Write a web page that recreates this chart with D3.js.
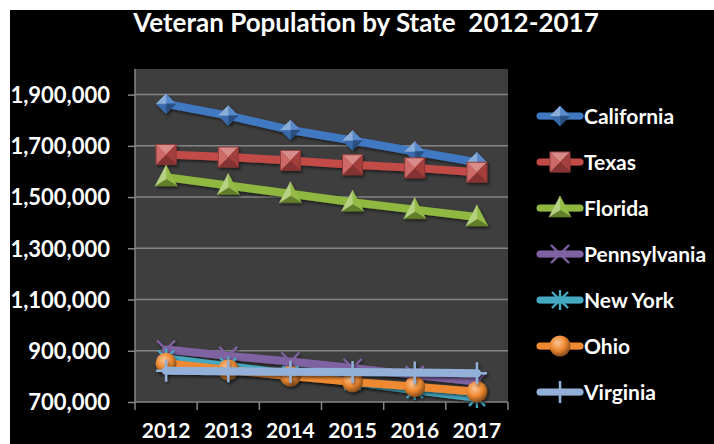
<!DOCTYPE html>
<html><head><meta charset="utf-8">
<script src="https://cdn.jsdelivr.net/npm/d3@7/dist/d3.min.js"></script>
<style>
html,body{margin:0;padding:0;background:#fff;}
svg{display:block;}
text{font-family:Lato,"Open Sans",sans-serif;font-weight:bold;fill:#fff;}
</style></head>
<body>
<svg id="chart" width="714" height="444"></svg>
<script>
const years = ["2012","2013","2014","2015","2016","2017"];
const seriesNames = ["California","Texas","Florida","Pennsylvania","New York","Ohio","Virginia"];
const california   = [1864000,1818000,1762000,1721000,1678000,1636000];
const texas        = [1666000,1656000,1643000,1626000,1614000,1597000];
const florida      = [1578000,1545000,1513000,1480000,1451000,1422000];
const pennsylvania = [905000,880000,858000,833000,805000,780000];
const newYork      = [870000,840000,809000,778000,747000,716000];
const ohio         = [851000,825000,801000,779000,760000,740000];
const virginia     = [822000,820000,818000,817000,815000,812000];
const yTicks = [700000,900000,1100000,1300000,1500000,1700000,1900000];
const title = "Veteran Population by State  2012-2017";

const seriesValues = [california,texas,florida,pennsylvania,newYork,ohio,virginia];
const colors = ["#4178c2","#c24b47","#8fb83f","#7f62a1","#45a9c2","#f08a32","#92b0d8"];
const shapes = ["diamond","square","triangle","x","star","circle","plus"];

const svg = d3.select("#chart");
const defs = svg.append("defs");
const sh = defs.append("filter").attr("id","shadow").attr("x","-20%").attr("y","-20%").attr("width","140%").attr("height","140%");
sh.append("feDropShadow").attr("dx",1.5).attr("dy",2).attr("stdDeviation",1.5).attr("flood-color","#000").attr("flood-opacity",0.55);

colors.forEach((c,i)=>{
  const g = defs.append("radialGradient").attr("id","ball"+i).attr("cx","40%").attr("cy","35%").attr("r","65%");
  g.append("stop").attr("offset","0%").attr("stop-color",d3.interpolateRgb(c,"#fff")(0.5));
  g.append("stop").attr("offset","55%").attr("stop-color",c);
  g.append("stop").attr("offset","100%").attr("stop-color",d3.interpolateRgb(c,"#000")(0.45));
});

// background
svg.append("rect").attr("x",10).attr("y",10).attr("width",704).attr("height",434).attr("fill","#000");

const x = d3.scaleBand().domain(years).range([135,508]).padding(0);
const y = d3.scaleLinear().domain([700000,2000000]).range([402,69]);

// plot area
svg.append("rect").attr("x",135).attr("y",y(2000000)).attr("width",373).attr("height",y(700000)-y(2000000)).attr("fill","#3e3e3e");

// grid
svg.append("g").selectAll("line").data(yTicks.slice(1)).join("line")
  .attr("x1",135).attr("x2",508).attr("y1",d=>y(d)).attr("y2",d=>y(d))
  .attr("stroke","#858585").attr("stroke-width",1.5);

// axes
const yAxis = svg.append("g").attr("transform","translate(135,0)")
  .call(d3.axisLeft(y).tickValues(yTicks).tickSize(7).tickPadding(18).tickFormat(d3.format(",")));
yAxis.select(".domain").attr("stroke","#868686").attr("stroke-width",1.5).attr("d","M0,"+y(2000000)+"V"+y(700000));
yAxis.selectAll(".tick line").attr("stroke","#868686").attr("stroke-width",1.5);
yAxis.selectAll(".tick text").style("font-size","22px").attr("fill","#fff").attr("dy","0.36em");

const xAxis = svg.append("g").attr("transform","translate(0,"+y(700000)+")");
xAxis.append("line").attr("x1",135).attr("x2",508).attr("stroke","#868686").attr("stroke-width",1.5);
const bounds = years.map(d=>x(d)).concat([x(years[years.length-1])+x.bandwidth()]);
xAxis.selectAll("line.tk").data(bounds).join("line").attr("class","tk")
  .attr("x1",d=>d).attr("x2",d=>d).attr("y1",0).attr("y2",8).attr("stroke","#868686").attr("stroke-width",1.5);
xAxis.selectAll("text").data(years).join("text")
  .attr("x",d=>x(d)+x.bandwidth()/2).attr("y",36).attr("text-anchor","middle")
  .style("font-size","21px").text(d=>d);

// title
svg.append("text").attr("x",366).attr("y",32).attr("text-anchor","middle")
  .style("font-size","26px").style("white-space","pre").attr("xml:space","preserve").text(title);

// marker drawing
function facet(g, pts, c, cx, cy){
  for(let k=0;k<pts.length;k++){
    const a=pts[k], b=pts[(k+1)%pts.length];
    let nx=(a[0]+b[0])/2-cx, ny=(a[1]+b[1])/2-cy;
    const len=Math.hypot(nx,ny)||1; nx/=len; ny/=len;
    const dot = -(nx*-0.45 + ny*-0.9);
    const col = dot<0 ? d3.interpolateRgb(c,"#fff")(Math.min(0.4,-dot*0.4)) : d3.interpolateRgb(c,"#000")(Math.min(0.4,dot*0.35));
    g.append("path").attr("d","M"+a+"L"+b+"L"+cx+","+cy+"Z").attr("fill",col).attr("stroke",col).attr("stroke-width",0.4);
  }
}
function drawMarker(g, shape, i, cx, cy){
  const c = colors[i];
  if(shape==="diamond"){
    facet(g,[[cx,cy-10],[cx+10,cy],[cx,cy+10],[cx-10,cy]],c,cx,cy);
  } else if(shape==="square"){
    facet(g,[[cx-10,cy-10],[cx+10,cy-10],[cx+10,cy+10],[cx-10,cy+10]],c,cx,cy);
    g.append("rect").attr("x",cx-10).attr("y",cy-10).attr("width",20).attr("height",20).attr("fill","none").attr("stroke",d3.interpolateRgb(c,"#000")(0.3)).attr("stroke-width",0.8);
  } else if(shape==="triangle"){
    facet(g,[[cx,cy-12],[cx+11,cy+9],[cx-11,cy+9]],c,cx,cy+2);
  } else if(shape==="circle"){
    g.append("circle").attr("cx",cx).attr("cy",cy).attr("r",10.5).attr("fill","url(#ball"+i+")");
  } else if(shape==="x"){
    g.append("path").attr("d",`M${cx-9},${cy-9}L${cx+9},${cy+9}M${cx+9},${cy-9}L${cx-9},${cy+9}`).attr("stroke",c).attr("stroke-width",2.2);
  } else if(shape==="star"){
    g.append("path").attr("d",`M${cx-8},${cy-8}L${cx+8},${cy+8}M${cx+8},${cy-8}L${cx-8},${cy+8}M${cx},${cy-10}L${cx},${cy+10}`).attr("stroke",c).attr("stroke-width",2.2);
  } else if(shape==="plus"){
    g.append("path").attr("d",`M${cx},${cy-11}L${cx},${cy+11}M${cx-10},${cy}L${cx+10},${cy}`).attr("stroke",c).attr("stroke-width",2.4);
  }
}

const line = d3.line().x((d,j)=>x(years[j])+x.bandwidth()/2).y(d=>y(d));
const plot = svg.append("g");
seriesValues.forEach((vals,i)=>{
  const g = plot.append("g").attr("filter","url(#shadow)");
  g.append("path").datum(vals).attr("d",line).attr("fill","none").attr("stroke",colors[i])
    .attr("stroke-width",8).attr("stroke-linejoin","round").attr("stroke-linecap","round");
  vals.forEach((v,j)=>drawMarker(g.append("g"),shapes[i],i,x(years[j])+x.bandwidth()/2,y(v)));
});

// legend
const leg = svg.append("g");
seriesNames.forEach((n,i)=>{
  const ly = 116 + i*46;
  const g = leg.append("g").attr("filter","url(#shadow)");
  g.append("line").attr("x1",540).attr("x2",580).attr("y1",ly).attr("y2",ly).attr("stroke",colors[i]).attr("stroke-width",7).attr("stroke-linecap","round");
  drawMarker(g.append("g"),shapes[i],i,560,ly);
  leg.append("text").attr("x",584).attr("y",ly).attr("dy","0.36em").style("font-size","21px").text(n);
});
</script>
</body></html>
